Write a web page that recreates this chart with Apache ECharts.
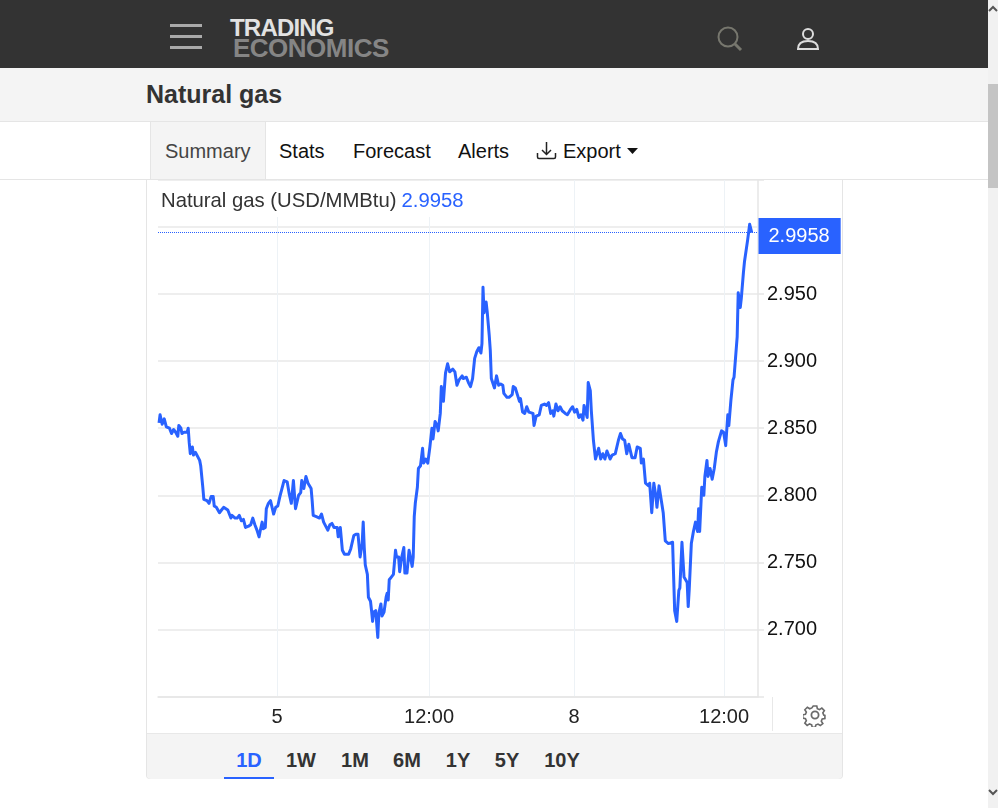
<!DOCTYPE html>
<html>
<head>
<meta charset="utf-8">
<title>Natural gas</title>
<script src="https://cdn.jsdelivr.net/npm/echarts@6/dist/echarts.min.js"></script>
<style>
html, body { margin: 0; padding: 0; background: #fff; overflow: hidden; }
body { width: 998px; height: 808px; position: relative; font-family: "Liberation Sans", Arial, sans-serif; }
.box, .txt, svg { position: absolute; }
.txt { white-space: nowrap; font-size: 20px; line-height: 24px; }
.range { top: 748px; font-weight: bold; color: #333; transform: translateX(-50%); }
#chart { position: absolute; left: 147px; top: 180px; width: 695px; height: 553px; }
</style>
</head>
<body>
<!-- page header -->
<div class="box" style="left:0;top:0;width:988px;height:68px;background:#333"></div>
<div class="box" style="left:170px;top:24px;width:32px;height:2.5px;background:#aaa"></div>
<div class="box" style="left:170px;top:35px;width:32px;height:2.5px;background:#aaa"></div>
<div class="box" style="left:170px;top:46px;width:32px;height:2.5px;background:#aaa"></div>
<div class="txt" style="left:230px;top:16px;font-size:24px;font-weight:bold;letter-spacing:-.8px;color:#e2e2e2">TRADING</div>
<div class="txt" style="left:233px;top:36px;font-size:26px;font-weight:bold;letter-spacing:-.5px;color:#858585">ECONOMICS</div>
<svg style="left:715px;top:25px" width="30" height="28" fill="none" stroke="#77776e" stroke-width="2">
  <circle cx="13" cy="12" r="9.5"/><line x1="20" y1="19" x2="26" y2="25" stroke-width="3"/>
</svg>
<svg style="left:795px;top:26px" width="26" height="26" fill="none" stroke="#ddd" stroke-width="2">
  <circle cx="13" cy="8" r="5"/><path d="M3 23 c0-7 5-8 10-8 s10 1 10 8 z"/>
</svg>

<!-- title band and tabs -->
<div class="box" style="left:0;top:68px;width:988px;height:53px;background:#f4f4f4;border-bottom:1px solid #e5e5e5"></div>
<div class="txt" style="left:146px;top:79px;font-size:25px;line-height:30px;font-weight:bold;color:#333">Natural gas</div>
<div class="box" style="left:0;top:179px;width:988px;height:1px;background:#e5e5e5"></div>
<div class="box" style="left:150px;top:122px;width:114px;height:57px;background:#f4f4f4;border-left:1px solid #e5e5e5;border-right:1px solid #e5e5e5"></div>
<div class="txt" style="left:165px;top:139px;color:#444">Summary</div>
<div class="txt" style="left:279px;top:139px;color:#111">Stats</div>
<div class="txt" style="left:353px;top:139px;color:#111">Forecast</div>
<div class="txt" style="left:458px;top:139px;color:#111">Alerts</div>
<svg style="left:536px;top:140px" width="22" height="22" fill="none" stroke="#222" stroke-width="1.5">
  <path d="M1.5 13 v4 q0 1.5 1.5 1.5 h15 q1.5 0 1.5-1.5 v-4"/><path d="M10.5 2 v12 M6 10 l4.5 4.5 l4.5-4.5"/>
</svg>
<div class="txt" style="left:563px;top:139px;color:#111">Export</div>
<svg style="left:627px;top:148px" width="12" height="7"><path d="M0 0 h11 l-5.5 6 z" fill="#111"/></svg>

<!-- chart card -->
<div class="box" style="left:146px;top:180px;width:695px;height:598px;border:1px solid #e5e5e5;border-top:none;border-radius:0 0 4px 4px"></div>
<div id="chart"></div>
<div class="box" style="left:772px;top:697px;width:1px;height:34px;background:#e8e8e8"></div>
<svg style="left:803px;top:703px" width="24" height="24" fill="none" stroke="#6a6a6a" stroke-width="1.8">
  <circle cx="12" cy="12" r="3.6"/>
  <path d="M10 2 h4 l.6 3 2.4 1 2.6-1.7 2.8 2.8 -1.7 2.6 1 2.4 1.3.4 v3.4 l-3 .6 -1 2.4 1.7 2.6 -2.8 2.2 -2.6-1.6 -2.4 1 -.6 2.6 h-3.4 l-.6-2.8 -2.4-1 -2.6 1.7 -2.6-2.6 1.7-2.6 -1-2.4 -3-.6 v-3.6 l3-.6 1-2.4 -1.7-2.6 2.8-2.8 2.6 1.7 2.4-1 z" transform="translate(1.2 1.2) scale(.9)"/>
</svg>
<div class="box" style="left:147px;top:733px;width:695px;height:45px;background:#f4f4f4;border-top:1px solid #e8e8e8;border-radius:0 0 4px 4px"></div>
<div class="txt range" style="left:249px;color:#2962ff">1D</div>
<div class="box" style="left:224px;top:777px;width:50px;height:2px;background:#2962ff"></div>
<div class="txt range" style="left:301px">1W</div>
<div class="txt range" style="left:355px">1M</div>
<div class="txt range" style="left:407px">6M</div>
<div class="txt range" style="left:458px">1Y</div>
<div class="txt range" style="left:507px">5Y</div>
<div class="txt range" style="left:562px">10Y</div>

<!-- browser scrollbar -->
<div class="box" style="left:988px;top:0;width:10px;height:808px;background:#f1f1f1"></div>
<div class="box" style="left:988px;top:84px;width:10px;height:104px;background:#c4c4c4"></div>
<svg style="left:988px;top:5px" width="10" height="8"><path d="M1 6 L5 2 L9 6" fill="none" stroke="#555" stroke-width="2"/></svg>
<svg style="left:988px;top:788px" width="10" height="8"><path d="M1 2 L5 6 L9 2" fill="none" stroke="#555" stroke-width="2"/></svg>

<script>
var seriesName = 'Natural gas (USD/MMBtu)';

// trading minutes since the left edge of the chart, weekend gap removed
var minutes = [
    5,10,20,30,40,55,60,65,75,85,95,100,110,115,125,140,145,150,155,165,
    170,180,190,200,205,215,220,235,245,255,265,270,280,295,305,315,335,350,355,370,
    380,390,400,410,420,435,445,455,465,475,485,490,500,505,515,520,530,540,555,565,
    575,585,595,605,620,630,640,650,660,665,675,685,690,700,710,720,735,740,745,760,
    775,785,795,800,815,825,835,845,860,865,875,885,895,905,915,925,940,950,960,970,
    980,985,990,995,1005,1010,1020,1025,1030,1035,1045,1055,1060,1070,1075,1085,1095,1100,1105,1110,
    1120,1130,1140,1145,1155,1160,1170,1180,1185,1195,1205,1210,1220,1225,1230,1235,1245,1250,1260,
    1270,1275,1285,1295,1305,1315,1320,1330,1340,1345,1355,1360,1370,1380,1390,1400,1415,1425,1435,1445,
    1460,1465,1480,1490,1500,1510,1520,1530,1540,1550,1555,1560,1565,1575,1580,1590,1595,1600,1615,1625,
    1635,1645,1655,1660,1675,1685,1700,1705,1715,1725,1735,1740,1750,1760,1770,1780,1785,1800,1805,1815,
    1830,1840,1855,1865,1875,1885,1895,1900,1910,1920,1930,1940,1955,1965,1980,1990,2000,2010,2020,2030,
    2040,2045,2060,2065,2075,2080,2090,2100,2115,2125,2135,2145,2155,2170,2180,2195,2210,2220,2230,2240,
    2250,2260,2265,2275,2290,2300,2315,2320,2330,2340,2355,2360,2370,2380,2390,2395,2405,2420,2425,2435,
    2450,2470,2480,2490,2500,2505,2515,2525,2540,2545,2550,2560,2570,2580,2590,2595,2600,2610,2620,2625,
    2635,2640,2650,2660,2670,2680,2690,2705,2715,2725,2735,2740,2750,2760,2765,2780,2785,2795,2800,2810,
    2815,2820,2830,2840,2845,2850
];
var prices = [
    2.854,2.860,2.853,2.857,2.851,2.850,2.851,2.846,2.849,2.847,2.844,2.852,2.850,2.846,2.847,2.847,2.850,2.839,2.831,2.836,
    2.830,2.832,2.829,2.826,2.822,2.806,2.797,2.796,2.794,2.799,2.799,2.792,2.791,2.787,2.789,2.791,2.789,2.783,2.785,2.783,
    2.783,2.785,2.781,2.782,2.776,2.777,2.778,2.783,2.778,2.774,2.769,2.773,2.780,2.775,2.776,2.790,2.794,2.796,2.786,2.791,
    2.792,2.799,2.805,2.811,2.810,2.801,2.794,2.811,2.790,2.790,2.800,2.802,2.811,2.805,2.814,2.809,2.805,2.796,2.785,2.784,
    2.783,2.786,2.780,2.781,2.774,2.778,2.779,2.776,2.776,2.769,2.776,2.759,2.756,2.756,2.756,2.760,2.770,2.771,2.771,2.754,
    2.764,2.780,2.761,2.748,2.741,2.724,2.721,2.714,2.706,2.713,2.714,2.694,2.712,2.719,2.710,2.713,2.724,2.727,2.722,2.737,
    2.739,2.741,2.759,2.754,2.754,2.743,2.754,2.761,2.742,2.742,2.759,2.760,2.747,2.754,2.784,2.794,2.806,2.820,2.822,
    2.835,2.824,2.827,2.824,2.836,2.850,2.842,2.855,2.852,2.848,2.861,2.881,2.870,2.891,2.898,2.892,2.894,2.892,2.882,2.886,
    2.889,2.887,2.888,2.884,2.881,2.887,2.902,2.907,2.910,2.906,2.913,2.955,2.936,2.944,2.937,2.919,2.908,2.887,2.880,2.889,
    2.882,2.883,2.882,2.876,2.873,2.873,2.875,2.881,2.880,2.875,2.870,2.872,2.862,2.861,2.866,2.862,2.863,2.861,2.852,2.859,
    2.860,2.867,2.868,2.867,2.869,2.861,2.863,2.859,2.868,2.863,2.866,2.863,2.861,2.860,2.864,2.866,2.862,2.864,2.858,2.860,
    2.856,2.867,2.858,2.884,2.878,2.863,2.841,2.827,2.835,2.827,2.831,2.827,2.833,2.827,2.830,2.831,2.841,2.846,2.842,2.841,
    2.831,2.838,2.838,2.828,2.828,2.836,2.835,2.824,2.827,2.809,2.807,2.809,2.787,2.809,2.799,2.791,2.807,2.792,2.787,2.766,
    2.764,2.765,2.714,2.706,2.729,2.731,2.765,2.739,2.735,2.717,2.730,2.764,2.773,2.780,2.773,2.790,2.773,2.806,2.800,2.814,
    2.826,2.814,2.820,2.812,2.820,2.832,2.840,2.848,2.847,2.837,2.860,2.852,2.871,2.886,2.888,2.918,2.951,2.940,2.947,2.966,
    2.974,2.973,2.990,3.002,3.002,2.9958
];

var timeTicks = [571, 1301, 1997, 2717];
var timeTickLabels = ['5', '12:00', '8', '12:00'];
var priceTicks = [2.70, 2.75, 2.80, 2.85, 2.90, 2.95];

var lastPrice = prices[prices.length - 1].toFixed(4);
var blue = '#2962ff';
var font = '"Liberation Sans", Arial, sans-serif';

var chart = echarts.init(document.getElementById('chart'));

var option = {
    animation: false,
    textStyle: { fontFamily: font },
    title: {
        left: 1,
        top: 1,
        padding: [10, 8, 6, 13],
        backgroundColor: '#fff',
        z: 10,
        text: '{name|' + seriesName + '} {val|' + lastPrice + '}',
        textStyle: {
            fontWeight: 'normal',
            rich: {
                name: { fontFamily: font, fontSize: 20.3, fontWeight: 'normal', color: '#333' },
                val: { fontFamily: font, fontSize: 20.3, fontWeight: 'normal', color: blue }
            }
        }
    },
    grid: { left: 11, right: 84, top: 0, bottom: 36.5 },
    xAxis: {
        type: 'value',
        min: 0,
        max: 2880,
        axisLine: { lineStyle: { color: '#e6e6e6', width: 1.5 } },
        axisTick: { show: false, customValues: timeTicks },
        axisLabel: {
            customValues: timeTicks,
            margin: 10.5,
            fontSize: 20,
            color: '#222',
            formatter: function(v) { return timeTickLabels[timeTicks.indexOf(v)]; }
        },
        splitLine: { show: true, lineStyle: { color: '#edf2f6', width: 1 } }
    },
    yAxis: {
        type: 'value',
        position: 'right',
        min: 2.65,
        max: 3.035,
        interval: 0.05,
        axisLine: { show: true, onZero: false, lineStyle: { color: '#e6e6e6', width: 1.5 } },
        axisTick: { show: true, length: 6, lineStyle: { color: '#e6e6e6', width: 1.5 } },
        axisLabel: {
            customValues: priceTicks,
            margin: 9,
            fontSize: 20,
            color: '#111',
            formatter: function(v) { return v.toFixed(3); }
        },
        splitLine: { show: true, lineStyle: { color: '#e8e8e8', width: 1.5 } }
    },
    series: [{
        name: seriesName,
        type: 'line',
        data: minutes.map(function(m, i) { return [m, prices[i]]; }),
        showSymbol: false,
        symbol: 'none',
        lineStyle: { color: blue, width: 3, join: 'round' },
        markLine: {
            silent: true,
            symbol: 'none',
            precision: 4,
            lineStyle: { color: blue, type: 'dotted', width: 1 },
            label: {
                position: 'end',
                distance: 0.5,
                offset: [0, 3.5],
                formatter: lastPrice,
                backgroundColor: blue,
                color: '#fff',
                fontSize: 20,
                padding: [8, 11, 8, 10]
            },
            data: [{ yAxis: +lastPrice }]
        }
    }]
};

chart.setOption(option);
</script>
</body>
</html>
